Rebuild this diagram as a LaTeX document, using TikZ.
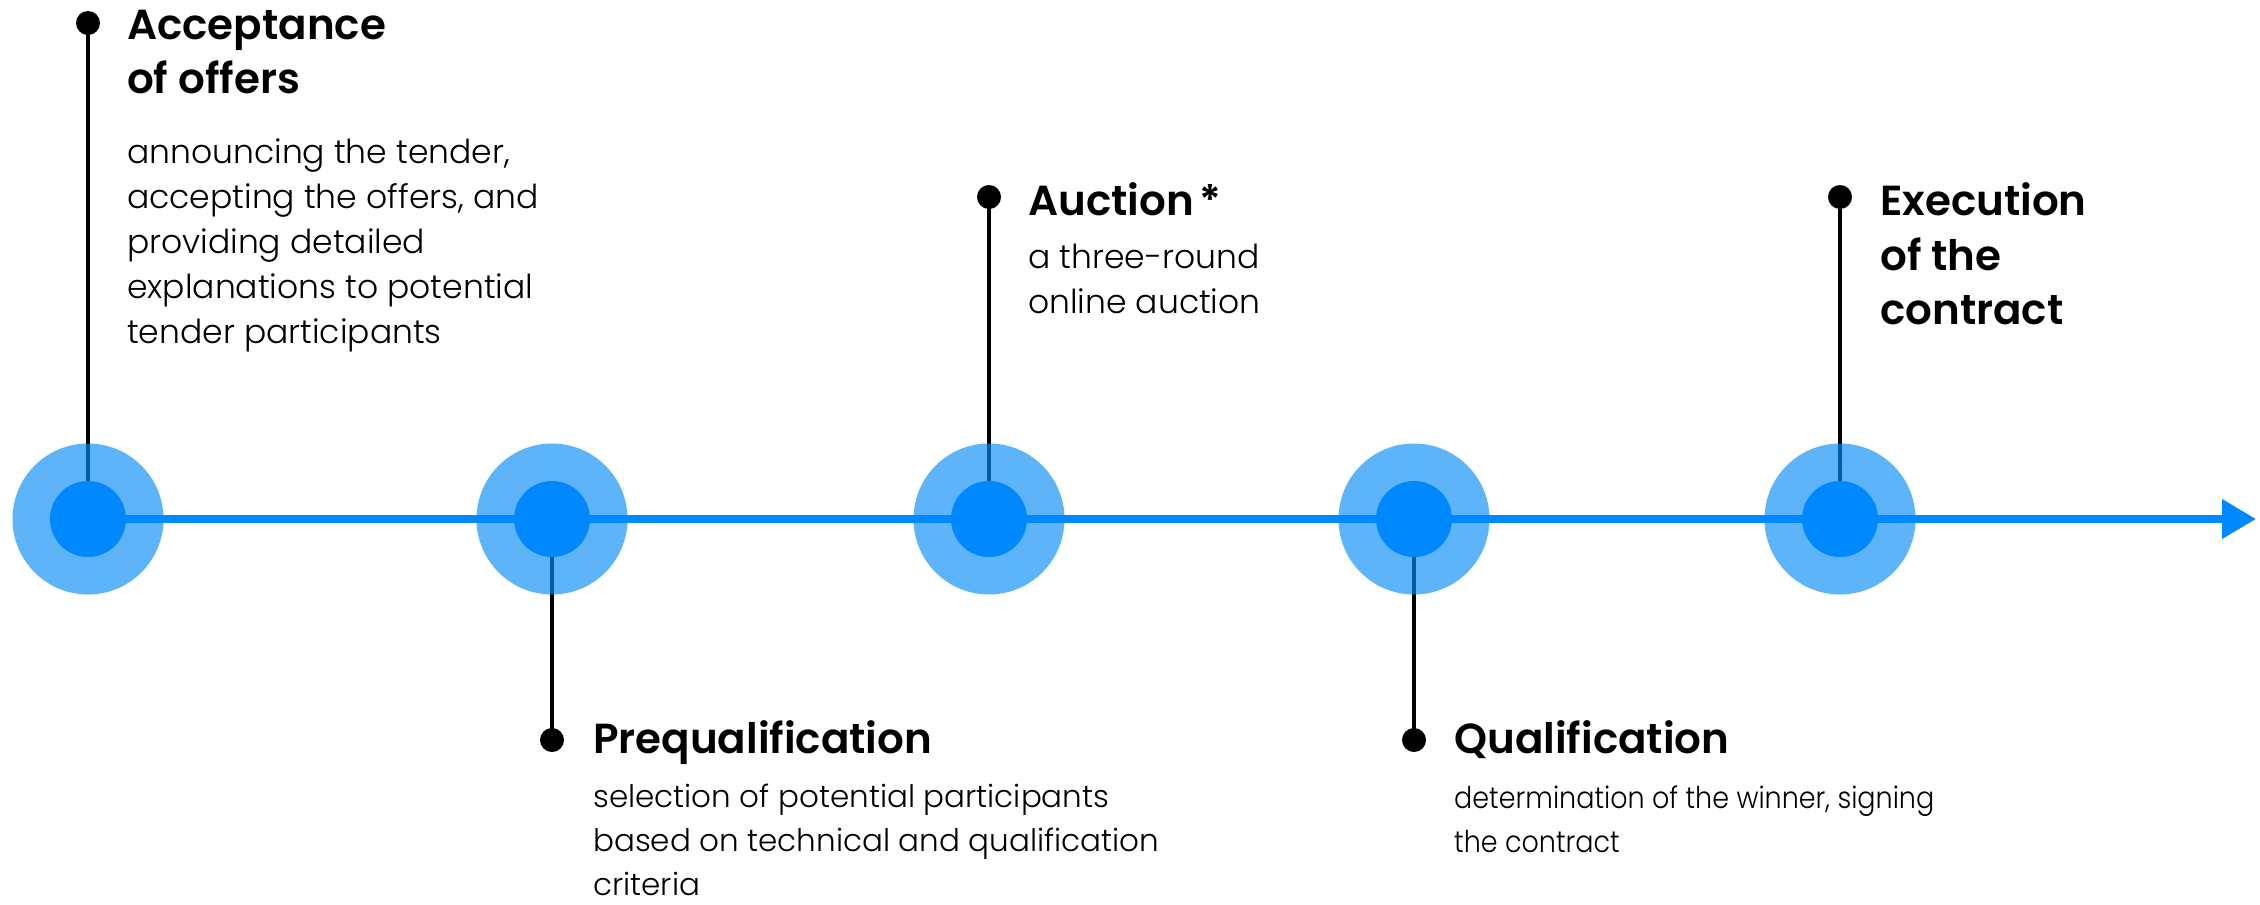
\documentclass[tikz,border=0pt]{standalone}
\usepackage{fontspec}
\setmainfont{Poppins Light}
\newfontfamily\headfont{Poppins SemiBold}
\newfontfamily\prefont{Poppins Light}
\newfontfamily\qualfont[FakeStretch=0.9]{Poppins Light}
\usetikzlibrary{arrows.meta}
\definecolor{ringblue}{RGB}{7,140,247}
\definecolor{mainblue}{RGB}{0,136,255}
\tikzset{
  outerring/.style={circle, fill=ringblue, minimum size=151pt, inner sep=0pt, fill opacity=0.65},
  innerdisc/.style={circle, fill=mainblue, minimum size=76pt, inner sep=0pt},
  bluedot/.style={circle, fill=black, minimum size=24pt, inner sep=0pt},
  stemline/.style={line width=4pt, black},
  axisline/.style={line width=7.5pt, mainblue, -{Triangle[length=34pt,width=38pt]}},
  headtext/.style={anchor=base west, inner sep=0pt, font=\headfont\fontsize{42}{50}\selectfont},
  bodytext/.style={anchor=base west, inner sep=0pt, font=\fontsize{33}{45}\selectfont},
  pretext/.style={anchor=base west, inner sep=0pt, font=\prefont\fontsize{31}{45}\selectfont},
  qualtext/.style={anchor=base west, inner sep=0pt, font=\qualfont\fontsize{30}{45}\selectfont},
}
\begin{document}
\begin{tikzpicture}[x=1pt,y=-1pt]
\useasboundingbox[fill=white] (0,0) rectangle (2260,905);
% centres
\coordinate (c1) at (88,519);
\coordinate (c2) at (552,519);
\coordinate (c3) at (989,519);
\coordinate (c4) at (1414,519);
\coordinate (c5) at (1840,519);
\coordinate (tip) at (2256,519);
% dots and stems
\node[bluedot] (d1) at (88,23) {};
\node[bluedot] (d2) at (552,740) {};
\node[bluedot] (d3) at (989,197) {};
\node[bluedot] (d4) at (1414,740) {};
\node[bluedot] (d5) at (1840,197) {};
\draw[stemline] (d1.center) -- (c1);
\draw[stemline] (d2.center) -- (c2);
\draw[stemline] (d3.center) -- (c3);
\draw[stemline] (d4.center) -- (c4);
\draw[stemline] (d5.center) -- (c5);
% outer rings
\node[outerring] (o1) at (c1) {};
\node[outerring] (o2) at (c2) {};
\node[outerring] (o3) at (c3) {};
\node[outerring] (o4) at (c4) {};
\node[outerring] (o5) at (c5) {};
% axis
\draw[axisline] (c1) -- (tip);
% inner discs
\node[innerdisc] (i1) at (c1) {};
\node[innerdisc] (i2) at (c2) {};
\node[innerdisc] (i3) at (c3) {};
\node[innerdisc] (i4) at (c4) {};
\node[innerdisc] (i5) at (c5) {};
% texts 1
\node[headtext] (h1a) at (127,39) {Acceptance};
\node[headtext] (h1b) at (127,93) {of offers};
\node[bodytext] (b1a) at (127,163) {announcing the tender,};
\node[bodytext] (b1b) at (127,208) {accepting the offers, and};
\node[bodytext] (b1c) at (127,253) {providing detailed};
\node[bodytext] (b1d) at (127,298) {explanations to potential};
\node[bodytext] (b1e) at (127,343) {tender participants};
% texts 2
\node[headtext] (h2a) at (593,753) {Prequalification};
\node[pretext] (b2a) at (593,807) {selection of potential participants};
\node[pretext] (b2b) at (593,851) {based on technical and qualification};
\node[pretext] (b2c) at (593,895) {criteria};
% texts 3
\node[headtext] (h3a) at (1028,215) {Auction\hspace{6pt}*};
\node[bodytext] (b3a) at (1028,268) {a three-round};
\node[bodytext] (b3b) at (1028,313) {online auction};
% texts 4
\node[headtext] (h4a) at (1454,753) {Qualification};
\node[qualtext] (b4a) at (1454,808) {determination of the winner, signing};
\node[qualtext] (b4b) at (1454,852) {the contract};
% texts 5
\node[headtext] (h5a) at (1880,215) {Execution};
\node[headtext] (h5b) at (1880,270) {of the};
\node[headtext] (h5c) at (1880,324) {contract};
\end{tikzpicture}
\end{document}
